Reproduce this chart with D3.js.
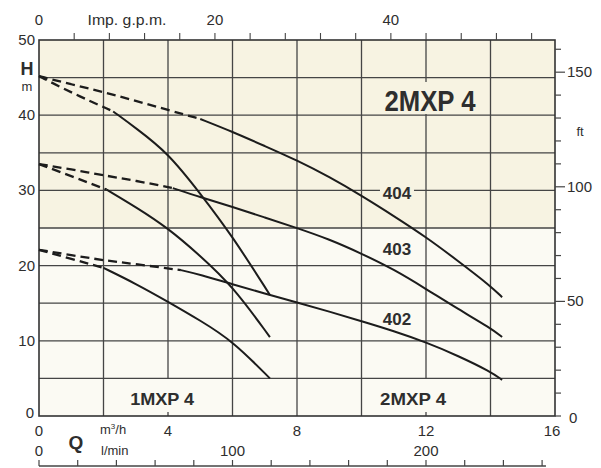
<!DOCTYPE html>
<html><head><meta charset="utf-8">
<script src="https://cdn.jsdelivr.net/npm/d3@7"></script>
<style>
html,body{margin:0;padding:0;background:#fff;}
svg{display:block;}
text{font-family:"Liberation Sans",Arial,Helvetica,sans-serif;fill:#2e2e2e;}
</style></head>
<body>
<svg id="chart" width="601" height="468"></svg>
<script>
// ---------- data ----------
const flowTicks = [0, 4, 8, 12, 16];            // m3/h
const headTicks = [0, 10, 20, 30, 40, 50];      // m
const ftTicks = [0, 50, 100, 150];              // ft
const gpmTicks = [0, 20, 40];                   // Imp. g.p.m.
const lminTicks = [0, 100, 200];                // l/min

// 2MXP 4 curves  [Q m3/h, H m]
const curve404 = [[0,45.2],[1,44.1],[2,43.1],[3,41.9],[4,40.7],[5,39.5],[6,37.8],[7,35.9],[8,34.0],[9,31.8],[10,29.3],[11,26.6],[12,23.8],[13,20.6],[14,17.3],[14.36,15.8]];
const curve403 = [[0,33.5],[1,32.8],[2,32.0],[3,31.3],[4.15,30.3],[5,29.1],[6,27.8],[7,26.4],[8,25.0],[9,23.5],[10,21.6],[11,19.5],[12,16.9],[13,14.2],[14,11.7],[14.36,10.5]];
const curve402 = [[0,22.1],[1,21.4],[2,20.7],[3,20.2],[4.4,19.4],[5,18.8],[6,17.5],[7,16.3],[8,15.1],[9,13.9],[10,12.6],[11,11.3],[12,9.8],[13,8.0],[14,5.9],[14.36,4.8]];
// 1MXP 4 curves
const curve1A = [[0,45.2],[1,43.0],[2.3,40.5],[3,38.3],[4,35.0],[5,29.6],[6,23.9],[7.16,16.1]];
const curve1B = [[0,33.5],[1,31.9],[2.1,30.1],[3,27.8],[4,25.0],[5,21.3],[6,17.3],[7.16,10.5]];
const curve1C = [[0,22.1],[1,20.9],[2,19.7],[3,17.6],[4,15.2],[5,12.7],[6,10.0],[7.16,5.0]];
const dashEnds = {c404:5, c403:4.15, c402:4.4, c1A:2.3, c1B:2.1, c1C:2};

const curveLabels = [{t:"404", q:11.1, h:29.6},{t:"403", q:11.1, h:22.2},{t:"402", q:11.1, h:12.9}];

// ---------- scales ----------
const svg = d3.select("#chart");
const x = d3.scaleLinear().domain([0,16]).range([39,555]);
const y = d3.scaleLinear().domain([0,50]).range([416,40]);
const M3H_PER_GPM = 0.272765;  // 1 Imp gpm in m3/h
const M_PER_FT = 0.3048;
const xg = d3.scaleLinear().domain([0,16/M3H_PER_GPM]).range([39,555]);
const xl = d3.scaleLinear().domain([0,16*1000/60]).range([39,555]);
const yf = d3.scaleLinear().domain([0,50/M_PER_FT]).range([416,40]);

const gridCol = "#454545";
const curveCol = "#1c1c1c";

// backgrounds
svg.append("rect").attr("x",x(0)).attr("y",y(50)).attr("width",x(16)-x(0)).attr("height",y(25)-y(50)).attr("fill","#f7f3e2");
svg.append("rect").attr("x",x(0)).attr("y",y(25)).attr("width",x(16)-x(0)).attr("height",y(0)-y(25)).attr("fill","#fbfaf3");

// grid
const g = svg.append("g").attr("stroke",gridCol).attr("stroke-width",1.3);
d3.range(5,50,5).forEach(h=>{
  g.append("line").attr("x1",x(0)).attr("x2",x(16)).attr("y1",y(h)).attr("y2",y(h));
});
d3.range(2,16,2).forEach(q=>{
  const lowSkip = (q===4||q===12);
  g.append("line").attr("x1",x(q)).attr("x2",x(q)).attr("y1",y(50)).attr("y2",lowSkip?y(5):y(0));
  if(lowSkip){
    g.append("line").attr("x1",x(q)).attr("x2",x(q)).attr("y1",y(0)).attr("y2",y(0)-4);
  }
});

// label knockouts
svg.append("rect").attr("x",381).attr("y",82).attr("width",96).attr("height",32).attr("fill","#f7f3e2");
curveLabels.forEach(l=>{
  svg.append("rect").attr("x",x(l.q)-17).attr("y",y(l.h)-9).attr("width",34).attr("height",18).attr("fill",l.h>25?"#f7f3e2":"#fbfaf3");
});

// border
svg.append("rect").attr("x",x(0)).attr("y",y(50)).attr("width",x(16)-x(0)).attr("height",y(0)-y(50))
  .attr("fill","none").attr("stroke","#333").attr("stroke-width",1.6);

// curves
const line = d3.line().x(d=>x(d[0])).y(d=>y(d[1])).curve(d3.curveBasis);
function drawCurve(pts, dEnd){
  const dashed = pts.filter(p=>p[0]<=dEnd);
  const solid = pts.filter(p=>p[0]>=dEnd);
  svg.append("path").attr("d",line(dashed)).attr("fill","none").attr("stroke",curveCol)
    .attr("stroke-width",2.3).attr("stroke-dasharray","9,5");
  svg.append("path").attr("d",line(solid)).attr("fill","none").attr("stroke",curveCol)
    .attr("stroke-width",2);
}
drawCurve(curve404, dashEnds.c404);
drawCurve(curve403, dashEnds.c403);
drawCurve(curve402, dashEnds.c402);
drawCurve(curve1A, dashEnds.c1A);
drawCurve(curve1B, dashEnds.c1B);
drawCurve(curve1C, dashEnds.c1C);

// curve labels
curveLabels.forEach(l=>{
  svg.append("text").attr("x",x(l.q)).attr("y",y(l.h)+6).attr("text-anchor","middle")
    .attr("font-size",17).attr("font-weight","bold").text(l.t);
});
svg.append("text").attr("x",430).attr("y",111).attr("text-anchor","middle").attr("font-size",30)
  .attr("font-weight","bold").attr("textLength",91).attr("lengthAdjust","spacingAndGlyphs").text("2MXP 4");
svg.append("text").attr("x",x(3.82)).attr("y",y(2.2)+6).attr("text-anchor","middle").attr("font-size",17)
  .attr("font-weight","bold").attr("textLength",64).attr("lengthAdjust","spacingAndGlyphs").text("1MXP 4");
svg.append("text").attr("x",x(11.6)).attr("y",y(2.2)+6).attr("text-anchor","middle").attr("font-size",17)
  .attr("font-weight","bold").attr("textLength",66).attr("lengthAdjust","spacingAndGlyphs").text("2MXP 4");

// left axis (m)
headTicks.forEach(h=>{
  svg.append("text").attr("x",h===0?34:35).attr("y",y(h)+5 - (h===0?3:0)).attr("text-anchor","end")
    .attr("font-size",15).text(h);
});
svg.append("text").attr("x",27).attr("y",75).attr("text-anchor","middle").attr("font-size",18).attr("font-weight","bold").text("H");
svg.append("text").attr("x",27).attr("y",91).attr("text-anchor","middle").attr("font-size",13).text("m");

// right axis (ft)
d3.range(0,161,10).forEach(f=>{
  const major = ftTicks.includes(f) && f>0;
  svg.append("line").attr("x1",x(16)).attr("x2",x(16)+(major?10:6)).attr("y1",yf(f)).attr("y2",yf(f))
    .attr("stroke",gridCol).attr("stroke-width",1.2);
});
ftTicks.forEach(f=>{
  svg.append("text").attr("x",f===0?569:567).attr("y",yf(f)+(f===0?7:5)).attr("text-anchor","start")
    .attr("font-size",15).text(f);
});
svg.append("text").attr("x",580).attr("y",136).attr("text-anchor","middle").attr("font-size",13).text("ft");

// top axis (Imp. g.p.m.)
d3.range(4,57,4).forEach(v=>{
  svg.append("line").attr("x1",xg(v)).attr("x2",xg(v)).attr("y1",y(50)).attr("y2",y(50)-7)
    .attr("stroke",gridCol).attr("stroke-width",1.1);
});
gpmTicks.forEach(v=>{
  svg.append("text").attr("x",xg(v)).attr("y",25).attr("text-anchor","middle").attr("font-size",15).text(v);
});
svg.append("text").attr("x",127).attr("y",25).attr("text-anchor","middle").attr("font-size",14)
  .attr("textLength",79).attr("lengthAdjust","spacingAndGlyphs").text("Imp. g.p.m.");

// bottom axis (m3/h)
flowTicks.forEach(v=>{
  svg.append("text").attr("x",v===16?x(v)-3:x(v)).attr("y",y(0)+20).attr("text-anchor","middle").attr("font-size",15).text(v);
});
const mh = svg.append("text").attr("x",100).attr("y",434).attr("font-size",13);
mh.append("tspan").text("m");
mh.append("tspan").attr("font-size",8).attr("dy",-5).text("3");
mh.append("tspan").attr("dy",5).text("/h");
svg.append("text").attr("x",76).attr("y",449).attr("text-anchor","middle").attr("font-size",19).attr("font-weight","bold").text("Q");

// bottom axis (l/min)
lminTicks.forEach(v=>{
  svg.append("text").attr("x",xl(v)).attr("y",456).attr("text-anchor","middle").attr("font-size",15).text(v);
});
svg.append("text").attr("x",101).attr("y",455).attr("font-size",13).text("l/min");
svg.append("line").attr("x1",xl(0)).attr("x2",xl(262)).attr("y1",466).attr("y2",466).attr("stroke",gridCol).attr("stroke-width",1.3);
d3.range(0,261,20).forEach(v=>{
  svg.append("line").attr("x1",xl(v)).attr("x2",xl(v)).attr("y1",466).attr("y2",460)
    .attr("stroke",gridCol).attr("stroke-width",1.2);
});
</script>
</body></html>
